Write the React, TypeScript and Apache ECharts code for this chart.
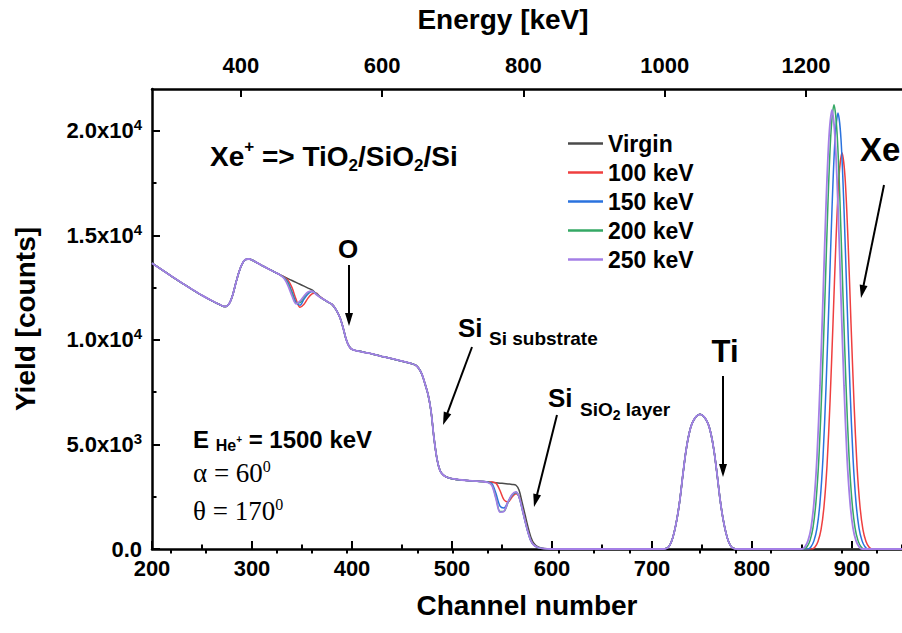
import React, { useEffect, useRef } from 'react';
import * as echarts from 'echarts';

const FONT = "'Liberation Sans', Arial, Helvetica, sans-serif";
const SERIF = "'Liberation Serif', 'Times New Roman', serif";

const seriesNames = ['Virgin', '100 keV', '150 keV', '200 keV', '250 keV'];
const seriesColors = ['#4a4a4a', '#ef3f3f', '#2a72de', '#35a865', '#a47fe6'];

// common part of the spectrum (channels 200-324)
const chanCommonA = [200, 210, 220, 230, 240, 250, 260, 268, 272, 275, 278, 281, 284, 287, 290, 293, 297, 300, 310, 320, 324];
const yieldCommonA = [13670, 13350, 13030, 12720, 12420, 12130, 11870, 11680, 11600, 11620, 11800, 12200, 12750, 13250, 13620, 13830, 13870, 13820, 13560, 13310, 13210];

// dip near channel 345 (per series)
const chanDipO = [328, 332, 336, 340, 344, 348, 352, 356, 360, 364, 368, 372];
const virginDipO = [13110, 13020, 12930, 12840, 12750, 12660, 12570, 12480, 12390, 12210, 12060, 11930];
const kev100DipO = [13110, 13010, 12850, 12500, 11950, 11560, 11700, 12000, 12200, 12240, 12070, 11930];
const kev150DipO = [13110, 12990, 12750, 12300, 11800, 11660, 11950, 12200, 12310, 12230, 12060, 11930];
const kev200DipO = [13110, 12970, 12680, 12200, 11750, 11780, 12050, 12260, 12330, 12200, 12050, 11930];
const kev250DipO = [13110, 12950, 12600, 12100, 11730, 11850, 12100, 12290, 12330, 12180, 12040, 11930];

// common part (O edge, Si substrate edge, plateau)
const chanCommonB = [376, 380, 384, 388, 391, 394, 397, 400, 410, 420, 430, 440, 450, 460, 464, 467, 470, 473, 476, 479, 482, 485, 488, 491, 495, 500, 510, 520, 530];
const yieldCommonB = [11810, 11700, 11450, 11060, 10600, 10050, 9700, 9550, 9430, 9330, 9210, 9100, 8980, 8860, 8780, 8620, 8350, 7900, 7400, 6600, 5300, 4300, 3750, 3550, 3430, 3365, 3300, 3255, 3230];

// dip near channel 550 (per series)
const chanDipSi = [536, 540, 544, 548, 552, 556, 560, 564, 567, 570, 573, 576, 579, 582, 586, 590, 595, 600];
const virginDipSi = [3210, 3190, 3170, 3150, 3130, 3110, 3090, 3050, 2820, 2250, 1650, 1050, 550, 260, 100, 40, 10, 0];
const kev100DipSi = [3210, 3200, 3150, 2800, 2350, 2250, 2480, 2640, 2520, 2000, 1400, 830, 400, 190, 75, 30, 8, 0];
const kev150DipSi = [3200, 3120, 2650, 2050, 1960, 2250, 2560, 2700, 2500, 1960, 1360, 800, 380, 180, 70, 30, 8, 0];
const kev200DipSi = [3190, 3060, 2450, 1790, 1800, 2220, 2580, 2720, 2500, 1950, 1350, 800, 380, 180, 70, 30, 8, 0];
const kev250DipSi = [3180, 3030, 2400, 1760, 1800, 2250, 2600, 2730, 2500, 1950, 1350, 800, 380, 180, 70, 30, 8, 0];

// Ti peak (common)
const chanTi = [605, 650, 700, 710, 713, 716, 719, 722, 725, 728, 731, 734, 737, 740, 744, 748, 752, 756, 759, 762, 765, 768, 771, 774, 777, 780, 783, 786, 810];
const yieldTi = [0, 0, 0, 0, 10, 70, 300, 760, 1450, 2400, 3600, 4700, 5500, 6000, 6330, 6440, 6330, 6000, 5500, 4700, 3600, 2400, 1450, 760, 300, 70, 10, 0, 0];

// Xe peaks (per series)
const virginXeChan = [830, 950];
const virginXeYield = [0, 0];
const kev100XeChan = [830, 860, 863, 866, 869, 872, 875, 878, 881, 884, 887, 890, 893, 896, 899, 902, 905, 908, 911, 914, 917, 920, 950];
const kev100XeYield = [0, 0, 95, 360, 910, 2030, 3980, 7010, 10800, 14780, 17810, 18950, 17810, 14780, 10800, 7010, 3980, 2030, 910, 360, 95, 0, 0];
const kev150XeChan = [830, 856, 859, 862, 865, 868, 871, 874, 877, 880, 883, 886, 889, 892, 895, 898, 901, 904, 907, 910, 913, 916, 950];
const kev150XeYield = [0, 0, 105, 400, 1000, 2230, 4380, 7710, 11880, 16260, 19600, 20850, 19600, 16260, 11880, 7710, 4380, 2230, 1000, 400, 105, 0, 0];
const kev200XeChan = [830, 852, 855, 858, 861, 864, 867, 870, 873, 876, 879, 882, 885, 888, 891, 894, 897, 900, 903, 906, 909, 912, 950];
const kev200XeYield = [0, 0, 110, 400, 1020, 2270, 4460, 7860, 12100, 16600, 19950, 21250, 19950, 16600, 12100, 7860, 4460, 2270, 1020, 400, 110, 0, 0];
const kev250XeChan = [830, 850, 853, 856, 859, 862, 865, 868, 871, 874, 877, 880, 883, 886, 889, 892, 895, 898, 901, 904, 907, 910, 950];
const kev250XeYield = [0, 0, 105, 400, 1000, 2250, 4400, 7800, 12000, 16400, 19700, 21000, 19700, 16400, 12000, 7800, 4400, 2250, 1000, 400, 105, 0, 0];

// ticks
const xTicks = [200, 300, 400, 500, 600, 700, 800, 900];
const xMinorTicks = [250, 350, 450, 550, 650, 750, 850, 950];
const eTicks = [400, 600, 800, 1000, 1200];
const eMinorTicks = [300, 350, 450, 500, 550, 650, 700, 750, 850, 900, 950, 1050, 1100, 1150, 1250, 1300];
const yTicks = [0, 5000, 10000, 15000, 20000];
const yMinorTicks = [2500, 7500, 12500, 17500];
const yTickMantissa = ['0.0', '5.0', '1.0', '1.5', '2.0'];
const yTickExponent = ['', '3', '4', '4', '4'];

const dipO = [virginDipO, kev100DipO, kev150DipO, kev200DipO, kev250DipO];
const dipSi = [virginDipSi, kev100DipSi, kev150DipSi, kev200DipSi, kev250DipSi];
const xeChan = [virginXeChan, kev100XeChan, kev150XeChan, kev200XeChan, kev250XeChan];
const xeYield = [virginXeYield, kev100XeYield, kev150XeYield, kev200XeYield, kev250XeYield];

function zip(xs: number[], ys: number[]) {
  return xs.map((x, i) => [x, ys[i]]);
}

function buildData(i: number) {
  return [
    ...zip(chanCommonA, yieldCommonA),
    ...zip(chanDipO, dipO[i]),
    ...zip(chanCommonB, yieldCommonB),
    ...zip(chanDipSi, dipSi[i]),
    ...zip(chanTi, yieldTi),
    ...zip(xeChan[i], xeYield[i]),
  ];
}

function txt(x: number, y: number, text: string, fontSize: number, extra: any = {}) {
  return {
    type: 'text', x, y, z: 100,
    style: { text, fontSize, fontWeight: 'bold', fontFamily: FONT, fill: '#000', align: 'left', verticalAlign: 'middle', ...extra },
  };
}

function arrow(x1: number, y1: number, x2: number, y2: number) {
  const dx = x2 - x1, dy = y2 - y1;
  const len = Math.hypot(dx, dy);
  const ux = dx / len, uy = dy / len;
  const hl = 13, hw = 4;
  const bx = x2 - ux * hl, by = y2 - uy * hl;
  return [
    { type: 'line', z: 100, shape: { x1, y1, x2: bx + ux * 2, y2: by + uy * 2 }, style: { stroke: '#000', lineWidth: 2 } },
    { type: 'polygon', z: 100, shape: { points: [[x2, y2], [bx - uy * hw, by + ux * hw], [bx + uy * hw, by - ux * hw]] }, style: { fill: '#000' } },
  ];
}

const tokenBold = (size: number, lh: number, va?: string) => ({ fontSize: size, fontWeight: 'bold', fontFamily: FONT, fill: '#000', lineHeight: lh, ...(va ? { verticalAlign: va } : {}) });
const tokenSerif = (size: number, lh: number, va?: string) => ({ fontSize: size, fontFamily: SERIF, fill: '#000', lineHeight: lh, ...(va ? { verticalAlign: va } : {}) });

const graphics: any[] = [
  txt(210, 156, '{a|Xe}{p|+}{a| => TiO}{b|2}{a|/SiO}{b|2}{a|/Si}', 28, {
    rich: { a: tokenBold(28, 36), p: tokenBold(17, 24, 'top'), b: tokenBold(17, 19, 'bottom') },
  }),
  txt(348, 248.5, 'O', 26, { align: 'center' }),
  ...arrow(349, 265, 349, 326),
  txt(458, 327.5, 'Si', 26),
  txt(489, 338.5, 'Si substrate', 19),
  ...arrow(472, 347, 443, 425),
  txt(548, 398, 'Si', 26),
  txt(580, 409.5, '{a|SiO}{b|2}{a| layer}', 19, {
    rich: { a: tokenBold(19, 24), b: tokenBold(14, 15, 'bottom') },
  }),
  ...arrow(557, 415, 534, 507),
  txt(725, 351.5, 'Ti', 31, { align: 'center' }),
  ...arrow(723, 376, 723, 477),
  txt(860, 149, 'Xe', 33),
  ...arrow(884, 185, 861, 298),
  txt(193, 439, '{a|E }{b|He}{c|+}{a| = 1500 keV}', 24, {
    rich: { a: tokenBold(24, 29), b: tokenBold(16, 16, 'bottom'), c: tokenBold(10, 10) },
  }),
  txt(193, 473, '{g|α = 60}{s|0}', 27, {
    rich: { g: tokenSerif(27, 30), s: tokenSerif(16, 16, 'top') },
  }),
  txt(193, 511, '{g|θ = 170}{s|0}', 27, {
    rich: { g: tokenSerif(27, 30), s: tokenSerif(16, 16, 'top') },
  }),
  txt(527, 605, 'Channel number', 28, { align: 'center' }),
  txt(503, 19, 'Energy [keV]', 28, { align: 'center' }),
  { type: 'text', x: 25, y: 319, rotation: Math.PI / 2, z: 100,
    style: { text: 'Yield [counts]', fontSize: 28, fontWeight: 'bold', fontFamily: FONT, fill: '#000', align: 'center', verticalAlign: 'middle' } },
];

const axisLineStyle = { show: true, onZero: false, lineStyle: { color: '#000', width: 2.5 } };
const labelStyle = { color: '#000', fontSize: 22, fontWeight: 'bold', fontFamily: FONT, formatter: (v: number) => String(v) };

const option: any = {
  animation: false,
  backgroundColor: '#fff',
  grid: { left: 152, top: 89, width: 752, height: 460 },
  legend: {
    orient: 'vertical', left: 563, top: 127, itemWidth: 35, itemHeight: 2.5, itemGap: 6,
    icon: 'rect',
    data: seriesNames,
    textStyle: { fontSize: 23, fontWeight: 'bold', fontFamily: FONT, color: '#000', lineHeight: 23 },
    selectedMode: false,
  },
  xAxis: [
    {
      type: 'value', position: 'bottom', min: 200, max: 950,
      axisLine: axisLineStyle,
      axisTick: { inside: true, length: 8, lineStyle: { color: '#000', width: 2 }, customValues: xTicks },
      axisLabel: { ...labelStyle, margin: 8, customValues: xTicks },
      splitLine: { show: false },
    },
    {
      type: 'value', position: 'bottom', min: 200, max: 950,
      axisLine: { show: false },
      axisTick: { inside: true, length: 4.5, lineStyle: { color: '#000', width: 2 }, customValues: xMinorTicks },
      axisLabel: { show: false },
      splitLine: { show: false },
    },
    {
      type: 'value', position: 'top', min: 274, max: 1336,
      axisLine: axisLineStyle,
      axisTick: { inside: true, length: 8, lineStyle: { color: '#000', width: 2 }, customValues: eTicks },
      axisLabel: { ...labelStyle, margin: 13, customValues: eTicks },
      splitLine: { show: false },
    },
    {
      type: 'value', position: 'top', min: 274, max: 1336,
      axisLine: { show: false },
      axisTick: { inside: true, length: 4.5, lineStyle: { color: '#000', width: 2 }, customValues: eMinorTicks },
      axisLabel: { show: false },
      splitLine: { show: false },
    },
  ],
  yAxis: [
    {
      type: 'value', position: 'left', min: 0, max: 22000,
      axisLine: axisLineStyle,
      axisTick: { inside: true, length: 8, lineStyle: { color: '#000', width: 2 }, customValues: yTicks },
      axisLabel: {
        margin: 10, customValues: yTicks,
        formatter: (v: number) => {
          const i = yTicks.indexOf(v);
          if (i < 0) return '';
          return yTickExponent[i] ? `{m|${yTickMantissa[i]}x10}{e|${yTickExponent[i]}}` : `{m|${yTickMantissa[i]}}`;
        },
        rich: {
          m: { fontSize: 22, fontWeight: 'bold', fontFamily: FONT, color: '#000', lineHeight: 27 },
          e: { fontSize: 15, fontWeight: 'bold', fontFamily: FONT, color: '#000', lineHeight: 15, verticalAlign: 'top' },
        },
      },
      splitLine: { show: false },
    },
    {
      type: 'value', position: 'left', min: 0, max: 22000,
      axisLine: { show: false },
      axisTick: { inside: true, length: 4.5, lineStyle: { color: '#000', width: 2 }, customValues: yMinorTicks },
      axisLabel: { show: false },
      splitLine: { show: false },
    },
  ],
  series: seriesNames.map((name, i) => ({
    name, type: 'line', xAxisIndex: 0, yAxisIndex: 0,
    data: buildData(i),
    symbol: 'none', showSymbol: false,
    smooth: 0.3,
    color: seriesColors[i],
    lineStyle: { color: seriesColors[i], width: i === 4 ? 1.8 : 1.5 },
    z: 2 + i,
  })),
  graphic: graphics,
};

export default function App() {
  const ref = useRef<HTMLDivElement>(null);
  useEffect(() => {
    const chart = echarts.init(ref.current!, null, { renderer: 'svg' });
    chart.setOption(option);
    return () => chart.dispose();
  }, []);
  return <div ref={ref} style={{ position: 'absolute', left: 0, top: 0, width: 902, height: 633, background: '#fff' }} />;
}
